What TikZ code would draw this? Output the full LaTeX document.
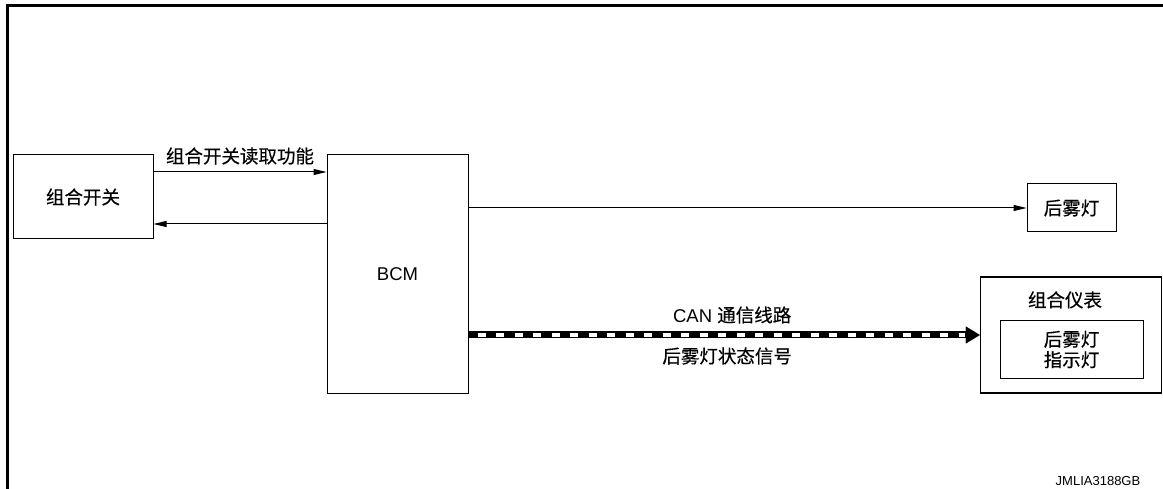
\documentclass[tikz,border=0pt]{standalone}
\usepackage{fontspec}
\setmainfont{Liberation Sans}
\newfontfamily\cjk[FakeBold=0.4]{Noto Sans CJK SC}
\usetikzlibrary{positioning,arrows.meta}

\begin{document}
\begin{tikzpicture}[x=1pt, y=-1pt,
blocknode/.style={rectangle, draw=black, line width=1pt, fill=white, inner sep=0pt, font=\fontsize{18.5}{20.5}\selectfont\cjk},
textnode/.style={inner sep=0pt, font=\fontsize{18.5}{20.5}\selectfont\cjk},
sigline/.style={line width=1pt, -{Triangle[length=13pt,width=6pt]}},
]
\useasboundingbox (0,0) rectangle (1163,489);
%Frame
\draw[line width=3pt] (7.5,489) -- (7.5,5.5) -- (1163,5.5);

%Nodes
\node[blocknode, minimum width=140pt, minimum height=84pt]  (sw)    at (83,197)      {组合开关};
\node[blocknode, minimum width=141pt, minimum height=238pt, font=\fontsize{18.5}{21}\selectfont] (bcm) at (397.5,274) {BCM};
\node[blocknode, minimum width=89pt, minimum height=48pt]   (fog)   at (1071.5,208)  {后雾灯};
\node[blocknode, minimum width=181pt, minimum height=116pt, line width=1.3pt] (meter) at (1071,335) {};
\node[textnode]                                             (meterlbl) at ([xshift=-6pt, yshift=-23.5pt]meter.north) {组合仪表};
\node[blocknode, minimum width=143pt, minimum height=57pt, align=center] (lamp) at (1071.5,349.5) {后雾灯\\指示灯};
\node[inner sep=0pt, font=\fontsize{13}{15}\selectfont]     (code)  at (1098,481)    {JMLIA3188GB};

%Lines
\draw[sigline] ([yshift=25pt]sw.east) -- ([yshift=25pt]sw.east -| bcm.west)
  node[textnode, midway, yshift=16pt] (readlbl) {组合开关读取功能};
\draw[sigline] ([yshift=-27pt]sw.east -| bcm.west) -- ([yshift=-27pt]sw.east);
\draw[sigline] (bcm.east |- fog.west) -- (fog.west);

%CAN
\draw[line width=7pt, -{Triangle[length=14pt,width=17pt,line width=0.1pt]}] (bcm.east |- meter.west) -- (meter.west)
  node[midway, inner sep=0pt, xshift=8pt, yshift=20pt, font=\fontsize{18.5}{20.5}\selectfont] (canlbl) {CAN {\cjk 通信线路}}
  node[textnode, midway, xshift=3pt, yshift=-21pt] (statelbl) {后雾灯状态信号};
\draw[white, line width=3.5pt, dash pattern=on 8pt off 10.5pt, dash phase=9.5pt] (bcm.east |- meter.west) -- ([xshift=-15pt]meter.west);
\end{tikzpicture}
\end{document}
